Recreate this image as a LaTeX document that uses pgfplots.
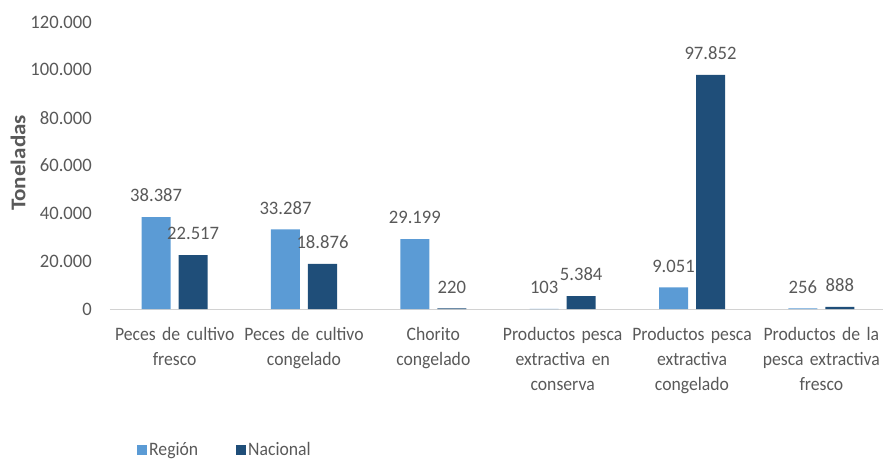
\documentclass[border=0pt]{standalone}
\usepackage{pgfplots}
\pgfplotsset{compat=1.18}
\usepackage{fontspec}
\setmainfont{Carlito}[FakeStretch=0.93]
\newfontfamily\numfont{Carlito}[FakeStretch=0.98]
\newfontfamily\labfont{Carlito}[FakeStretch=1.1]
\definecolor{region}{HTML}{5B9BD5}
\definecolor{nacional}{HTML}{1F4E79}
\definecolor{txt}{HTML}{595959}
\begin{document}
\begin{tikzpicture}
\useasboundingbox (-110bp,-150bp) rectangle (773bp,309bp);
\begin{axis}[
    scale only axis,
    width=776bp, height=287bp,
    at={(0,0)}, anchor=south west,
    ybar=8bp, bar width=29bp,
    xmin=-0.5, xmax=5.5,
    ymin=0, ymax=120000,
    enlargelimits=false,
    clip=false,
    axis x line*=bottom, axis y line*=left,
    x axis line style={draw=gray!35, line width=0.8pt, -},
    y axis line style={draw=none},
    major tick length=0pt,
    xtick=data,
    xticklabels={
        Peces de cultivo\\fresco,
        Peces de cultivo\\congelado,
        Chorito\\congelado,
        Productos pesca\\extractiva en\\conserva,
        Productos pesca\\extractiva\\congelado,
        Productos de la\\pesca extractiva\\fresco},
    ytick={0,20000,...,120000},
    scaled y ticks=false,
    /pgf/number format/fixed,
    /pgf/number format/1000 sep={.},
    /pgf/number format/assume math mode=true,
    font={\fontsize{19bp}{25bp}\selectfont\color{txt}},
    xticklabel style={text width=140bp, align=center, anchor=north,
        inner sep=0pt, yshift=-18bp},
    yticklabel style={anchor=east, inner sep=0pt, xshift=-18bp,
        font={\fontsize{19bp}{23bp}\numfont\color{txt}}},
    ylabel={Toneladas},
    every axis y label/.style={at={(rel axis cs:0,0.509)}, xshift=-92bp,
        rotate=90, anchor=center,
        font={\fontsize{21bp}{23bp}\labfont\bfseries\color{txt}}},
    nodes near coords,
    nodes near coords style={anchor=south, inner sep=0pt, yshift=15bp,
        font={\fontsize{19bp}{23bp}\numfont\color{txt}}},
    legend columns=2,
    legend style={draw=none, fill=none, inner sep=0pt, at={(0,0)},
        anchor=west, xshift=27bp, yshift=-141bp,
        nodes={inner sep=2bp, anchor=west},
        /tikz/column 2/.style={column sep=36bp}},
    legend image code/.code={\fill[#1] (0bp,-5bp) rectangle (10bp,5bp);},
]
\addplot[fill=region, draw=none]
    coordinates {(0,38387) (1,33287) (2,29199) (3,103) (4,9051) (5,256)};
\addplot[fill=nacional, draw=none]
    coordinates {(0,22517) (1,18876) (2,220) (3,5384) (4,97852) (5,888)};
\legend{Región, Nacional}
\end{axis}
\end{tikzpicture}
\end{document}
